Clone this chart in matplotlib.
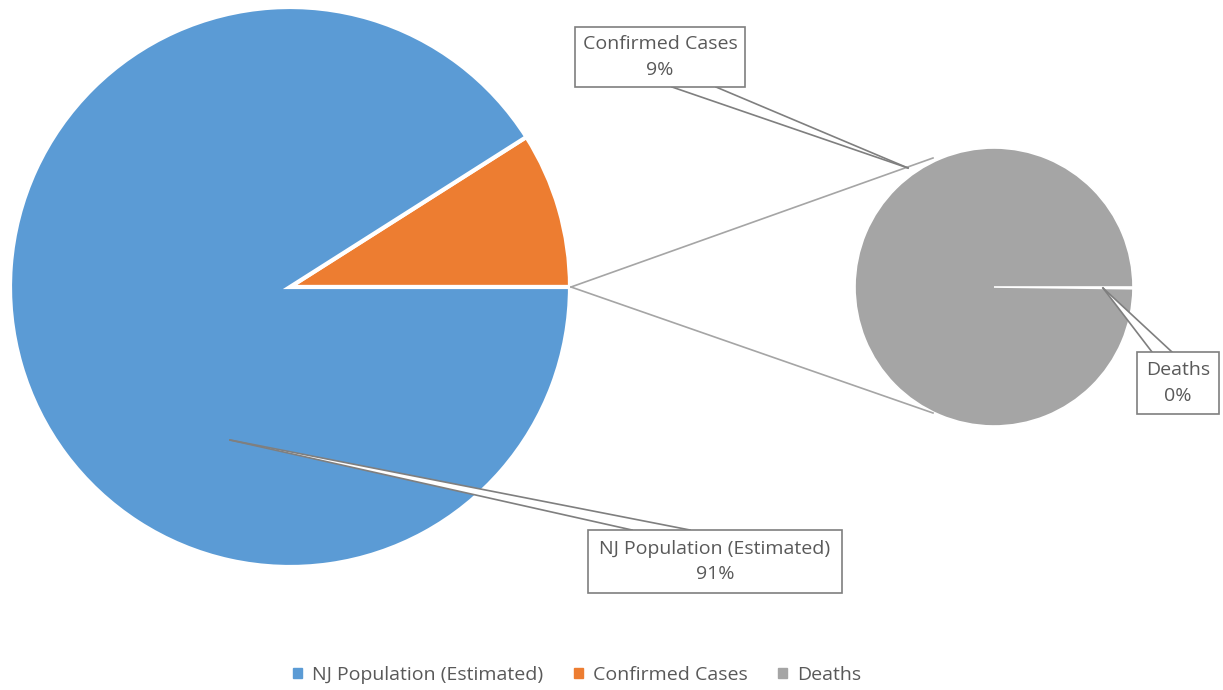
import matplotlib.pyplot as plt
from matplotlib.patches import Rectangle, Polygon, Patch

# data (shares)
main_labels = ["Confirmed Cases", "NJ Population (Estimated)"]
main_values = [9, 91]
sub_labels = ["Deaths", "Confirmed Cases"]
sub_values = [0.2, 99.8]
legend_labels = ["NJ Population (Estimated)", "Confirmed Cases", "Deaths"]
label_pcts = ["9%", "91%", "0%"]

blue = "#5B9BD5"
orange = "#ED7D31"
gray = "#A5A5A5"
txt = "#595959"
edge = "#7F7F7F"

plt.rcParams['font.family'] = ['Open Sans', 'DejaVu Sans']

fig = plt.figure(figsize=(12.23, 6.9), dpi=100)
ax = fig.add_axes([0, 0, 1, 1])

# main pie
ax.pie(main_values, colors=[orange, blue], startangle=0, counterclock=True,
       center=(290, 403), radius=280,
       wedgeprops=dict(edgecolor="white", linewidth=3))
# secondary pie
ax.pie(sub_values, colors=[gray, gray], startangle=0, counterclock=False,
       center=(994, 403), radius=139,
       wedgeprops=dict(edgecolor="white", linewidth=1.2))

# connector lines
ax.plot([571, 933], [403, 532], color=gray, lw=1.2)
ax.plot([571, 933], [403, 277], color=gray, lw=1.2)


def callout(box, lines, target, pts):
    x0, y0, w, h = box
    poly = Polygon([pts[0], target, pts[1]], closed=True, facecolor="white",
                   edgecolor="none", zorder=5)
    ax.add_patch(poly)
    for p in pts:
        ax.plot([p[0], target[0]], [p[1], target[1]], color=edge, lw=1.2, zorder=6)
    ax.add_patch(Rectangle((x0, y0), w, h, facecolor="white", edgecolor=edge,
                           lw=1.2, zorder=7))
    ax.text(x0 + w / 2, y0 + h / 2, lines, ha="center", va="center",
            fontsize=14, color=txt, zorder=8, linespacing=1.55)


callout((575, 603, 170, 60), main_labels[0] + "\n" + label_pcts[0],
        (908, 522), [(672, 603), (716, 603)])
callout((1137, 276, 82, 62), sub_labels[0] + "\n" + label_pcts[2],
        (1103, 402), [(1152, 338), (1172, 338)])
callout((588, 97, 254, 63), main_labels[1] + "\n" + label_pcts[1],
        (230, 250), [(632, 160), (690, 160)])

ax.set_xlim(0, 1223)
ax.set_ylim(0, 690)
ax.set_aspect("equal")
ax.axis("off")

handles = [Patch(color=c) for c in [blue, orange, gray]]
leg = fig.legend(handles, legend_labels, loc="center", bbox_to_anchor=(0.472, 0.022),
                 ncol=3, frameon=False, handlelength=0.45, handleheight=0.45,
                 handletextpad=0.5, columnspacing=1.6, fontsize=14)
for t in leg.get_texts():
    t.set_color(txt)

plt.savefig("out.png", dpi=100)
